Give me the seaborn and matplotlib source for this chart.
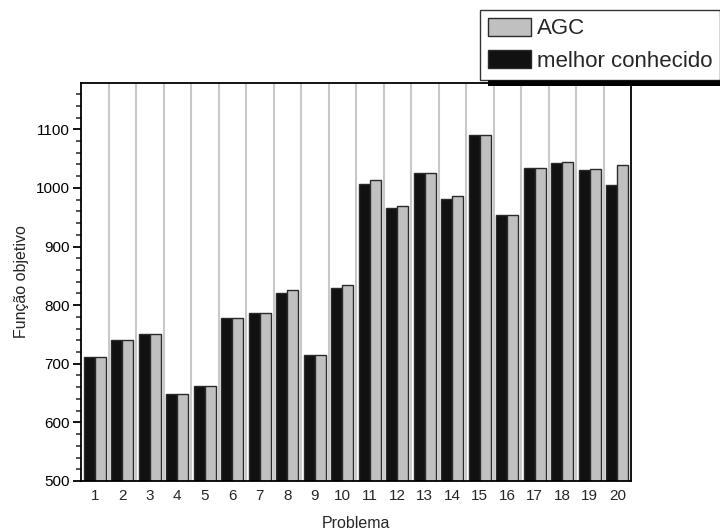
import matplotlib
matplotlib.use("Agg")
import matplotlib.pyplot as plt
from matplotlib.patches import Rectangle
from matplotlib.ticker import MultipleLocator
import numpy as np
import pandas as pd
import seaborn as sns

problems = [str(i) for i in range(1, 21)]
melhor_conhecido = [712, 740, 751, 649, 662, 778, 787, 820, 715, 829,
                    1006, 965, 1026, 981, 1090, 953, 1034, 1043, 1030, 1005]
agc = [712, 740, 751, 649, 662, 778, 787, 826, 715, 834,
       1013, 969, 1026, 986, 1090, 954, 1034, 1045, 1032, 1039]

series_names = ["melhor conhecido", "AGC"]
series_colors = {"melhor conhecido": "#111111", "AGC": "#c0c0c0"}

df = pd.DataFrame({
    "Problema": problems * 2,
    "valor": melhor_conhecido + agc,
    "serie": [series_names[0]] * len(problems) + [series_names[1]] * len(problems),
})

sns.set_theme(style="white")
plt.rcParams["font.family"] = ["Liberation Sans", "DejaVu Sans"]

fig = plt.figure(figsize=(7.2, 5.32), dpi=100)
ax = fig.add_axes([81 / 720, 1 - 481 / 532, 550 / 720, 398 / 532])

sns.barplot(data=df, x="Problema", y="valor", hue="serie", order=problems,
            hue_order=series_names, palette=series_colors, width=0.8,
            edgecolor="#2a2a2a", linewidth=1.0, saturation=1, ax=ax,
            legend=False)

# separators between problems
for k in range(len(problems) - 1):
    ax.axvline(k + 0.5, color="#c8c8c8", lw=1.5, zorder=0)

ax.set_xlim(-0.5, len(problems) - 0.5)
ax.set_ylim(500, 1179)
ax.yaxis.set_major_locator(MultipleLocator(100))
ax.yaxis.set_minor_locator(MultipleLocator(20))
ax.tick_params(axis="y", which="major", direction="out", length=6, width=1.3,
               left=True, labelsize=11, colors="black", pad=2)
ax.tick_params(axis="y", which="minor", direction="out", length=3.5, width=1.1,
               left=True)
ax.tick_params(axis="x", which="both", length=0, labelsize=11, pad=6)
for side in ["left", "right", "top", "bottom"]:
    ax.spines[side].set_visible(True)
    ax.spines[side].set_color("black")
    ax.spines[side].set_linewidth(1.3)

ax.set_xlabel("Problema", fontsize=11.5, labelpad=9)
ax.set_ylabel("Função objetivo", fontsize=11.5, labelpad=5)

handles = [Rectangle((0, 0), 1, 1, facecolor=series_colors["AGC"], edgecolor="#2a2a2a", lw=1),
           Rectangle((0, 0), 1, 1, facecolor=series_colors["melhor conhecido"], edgecolor="#2a2a2a", lw=1)]
leg = fig.legend(handles, ["AGC", "melhor conhecido"], loc="upper left",
                 bbox_to_anchor=(480 / 720, 1 - 10 / 532), borderaxespad=0,
                 fontsize=16, frameon=True, fancybox=False, shadow=False,
                 handlelength=1.95, handleheight=0.85, handletextpad=0.25,
                 labelspacing=0.5, borderpad=0.35)
leg.get_frame().set_edgecolor("black")
leg.get_frame().set_linewidth(1.0)

fig.canvas.draw()
bb = leg.get_window_extent().transformed(fig.transFigure.inverted())
shadow = Rectangle((bb.x0 + 8 / 720, bb.y0 - 6 / 532), bb.width, 6 / 532,
                   transform=fig.transFigure, facecolor="black",
                   edgecolor="none", zorder=leg.get_zorder() - 0.1)
fig.add_artist(shadow)

fig.savefig("out.png", dpi=100)
